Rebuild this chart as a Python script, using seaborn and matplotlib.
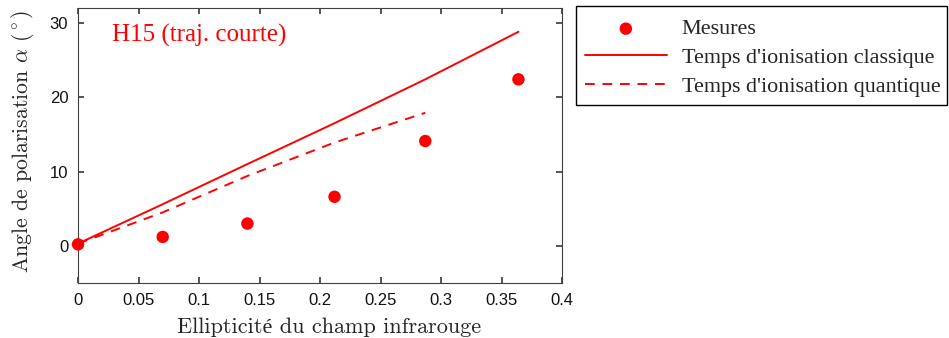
import matplotlib
matplotlib.use("Agg")
import matplotlib.pyplot as plt
from matplotlib.patches import Rectangle
import seaborn as sns
import pandas as pd

# Data
ellipticite_mes = [0.0, 0.07, 0.14, 0.212, 0.287, 0.364]
angle_mes = [0.2, 1.2, 3.0, 6.6, 14.1, 22.4]

ellipticite_classique = [0.0, 0.07, 0.14, 0.212, 0.287, 0.364]
angle_classique = [0.3, 5.6, 11.0, 16.5, 22.4, 28.8]

ellipticite_quantique = [0.0, 0.07, 0.14, 0.212, 0.287]
angle_quantique = [0.3, 4.5, 9.4, 13.9, 17.9]

x_ticks = [0, 0.05, 0.1, 0.15, 0.2, 0.25, 0.3, 0.35, 0.4]
x_tick_labels = ["0", "0.05", "0.1", "0.15", "0.2", "0.25", "0.3", "0.35", "0.4"]
y_ticks = [0, 10, 20, 30]

legend_labels = ["Mesures", "Temps d'ionisation classique", "Temps d'ionisation quantique"]

# Style
sns.set_theme(style="ticks")
plt.rcParams.update({
    "font.family": ["Liberation Sans", "DejaVu Sans"],
    "mathtext.fontset": "cm",
    "axes.edgecolor": "#404040",
    "axes.linewidth": 0.8,
    "xtick.color": "#404040",
    "ytick.color": "#404040",
    "xtick.labelcolor": "#111111",
    "ytick.labelcolor": "#111111",
    "xtick.direction": "in",
    "ytick.direction": "in",
    "xtick.major.size": 4,
    "ytick.major.size": 4,
    "xtick.labelsize": 12,
    "ytick.labelsize": 12,
})

serif_cm = ["cmr10", "Liberation Serif"]
times = ["Liberation Serif", "DejaVu Serif"]

W, H = 949, 338
fig = plt.figure(figsize=(W / 100, H / 100), dpi=100)
ax = fig.add_axes([78 / W, 55 / H, 484 / W, 275 / H])

lines_df = pd.concat([
    pd.DataFrame({"x": ellipticite_classique, "y": angle_classique, "modele": "classique"}),
    pd.DataFrame({"x": ellipticite_quantique, "y": angle_quantique, "modele": "quantique"}),
])

sns.lineplot(data=lines_df, x="x", y="y", style="modele",
             dashes={"classique": "", "quantique": (5.0, 4.0)},
             color="red", linewidth=1.4, sort=False, legend=False, ax=ax)
sns.scatterplot(x=ellipticite_mes, y=angle_mes, color="red", s=80,
                edgecolor="none", ax=ax, zorder=3, clip_on=False)
points = ax.collections[-1]

ax.set_xlim(0, 0.4)
ax.set_ylim(-5, 32)
ax.set_xticks(x_ticks)
ax.set_xticklabels(x_tick_labels)
ax.set_yticks(y_ticks)
ax.tick_params(top=True, right=True, pad=7)

ax.set_xlabel("Ellipticité du champ infrarouge", family=serif_cm, fontsize=16)
ax.set_ylabel(r"Angle de polarisation $\alpha$ $(^\circ)$", family=serif_cm, fontsize=15.7)
ax.xaxis.set_label_coords(0.519, -0.125)
ax.yaxis.set_label_coords(-0.086, 0.516)

ax.text(0.028, 28.3, "H15 (traj. courte)", color="red", family=times, fontsize=18,
        va="center", ha="left")

# Legend: frame drawn separately so padding can differ horizontally / vertically
handles = [points, ax.lines[0], ax.lines[1]]
leg = fig.legend(handles, legend_labels, loc="upper left",
                 bbox_to_anchor=(585 / W, 1 - 19 / H), bbox_transform=fig.transFigure,
                 prop={"family": times, "size": 15.9}, frameon=False,
                 borderaxespad=0, borderpad=0,
                 handlelength=3.7, handletextpad=0.68, labelspacing=0.37, scatterpoints=1)
fig.patches.append(Rectangle((576 / W, 1 - 105 / H), 371 / W, 99 / H,
                             transform=fig.transFigure, fill=False,
                             edgecolor="black", linewidth=1.0))

fig.savefig("out.png", dpi=100)
